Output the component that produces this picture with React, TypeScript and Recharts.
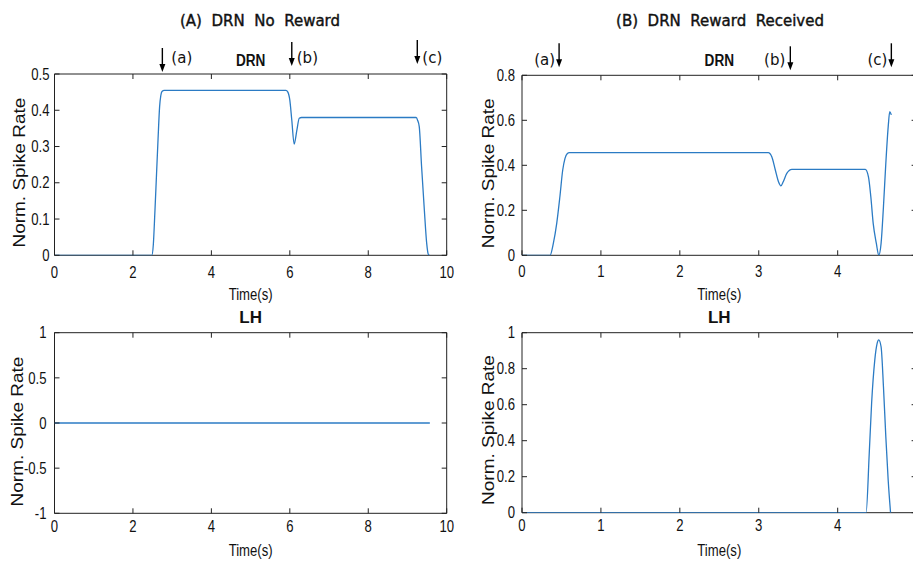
import React from "react"
import { LineChart, Line, XAxis, YAxis, ReferenceLine, Label, CartesianGrid } from "recharts"

// (A) DRN, no reward
const drnNoRewardTime = [0, 2.48, 2.52, 2.56, 2.6, 2.64, 2.68, 2.71, 2.74, 2.8, 5.9, 5.95, 6.0, 6.05, 6.11, 6.18, 6.24, 6.3, 9.22, 9.26, 9.3, 9.36, 9.43, 9.49, 9.53, 9.56]
const drnNoRewardRate = [0, 0, 0.03, 0.12, 0.22, 0.32, 0.41, 0.44, 0.452, 0.455, 0.455, 0.45, 0.428, 0.373, 0.307, 0.345, 0.378, 0.38, 0.38, 0.372, 0.355, 0.244, 0.125, 0.033, 0.003, 0]
// (A) LH, no reward
const lhNoRewardTime = [0, 9.57]
const lhNoRewardRate = [0, 0]
// (B) DRN, reward received
const drnRewardTime = [0, 0.355, 0.397, 0.44, 0.48, 0.516, 0.545, 0.575, 0.6, 3.12, 3.165, 3.21, 3.25, 3.28, 3.31, 3.355, 3.42, 3.45, 4.35, 4.39, 4.42, 4.45, 4.49, 4.52, 4.55, 4.58, 4.61, 4.64, 4.66, 4.68]
const drnRewardRate = [0, 0, 0.053, 0.142, 0.26, 0.379, 0.431, 0.452, 0.456, 0.456, 0.438, 0.379, 0.327, 0.309, 0.327, 0.364, 0.382, 0.382, 0.382, 0.349, 0.26, 0.142, 0.053, 0, 0.053, 0.216, 0.409, 0.571, 0.638, 0.624]
// (B) LH, reward received
const lhRewardTime = [0, 4.36, 4.4, 4.43, 4.47, 4.5, 4.52, 4.55, 4.58, 4.61, 4.64, 4.67]
const lhRewardRate = [0, 0, 0.33, 0.608, 0.848, 0.941, 0.96, 0.922, 0.7, 0.422, 0.18, 0]

const ticksTimeA = [0, 2, 4, 6, 8, 10]
const ticksTimeB = [0, 1, 2, 3, 4]
const ticksDrnA = [0, 0.1, 0.2, 0.3, 0.4, 0.5]
const ticksDrnB = [0, 0.2, 0.4, 0.6, 0.8]
const ticksLhA = [-1, -0.5, 0, 0.5, 1]
const ticksLhB = [0, 0.2, 0.4, 0.6, 0.8, 1]

const eventLabels = ["(a)", "(b)", "(c)"]
const eventTimeA = [2.75, 6.05, 9.25]
const eventTimeB = [0.47, 3.4, 4.68]

// arrow placement tweaks (pixels)
const arrowStyleA = [{ gap: 2, dx: 9 }, { gap: 8, dx: 5 }, { gap: 10, dx: 5 }]
const arrowStyleB = [{ gap: 8, dx: -4 }, { gap: 5, dx: -5 }, { gap: 8, dx: -4 }]

const zip = (t: number[], v: number[]) => t.map((x, i) => ({ t: x, v: v[i] }))

const AXIS = "#222"
const LINE = "#2b7bc4"
const SANS = "'Liberation Sans', Arial, sans-serif"
const SQUEEZE = 0.82 // the original figure text is horizontally squeezed

const NarrowTick = (props: any) => {
  const { x, y, payload, textAnchor, verticalAnchor } = props
  const dy = verticalAnchor === "start" ? "0.71em" : "0.355em"
  return (
    <g transform={`translate(${x},${y}) scale(${SQUEEZE},1)`}>
      <text x={0} y={0} dy={dy} textAnchor={textAnchor} fontFamily={SANS} fontSize={16} fill="#111">
        {payload.value}
      </text>
    </g>
  )
}

const narrowLabel =
  (text: string, where: "top" | "bottom", offset: number, bold = false, sx = SQUEEZE, size = 16) =>
  (p: any) => {
    const vb = p.viewBox
    const x = vb.x + vb.width / 2
    const y = where === "bottom" ? vb.y + vb.height + offset : vb.y - offset
    return (
      <g transform={`translate(${x},${y}) scale(${sx},1)`}>
        <text
          x={0}
          y={0}
          dy={where === "bottom" ? "0.71em" : 0}
          textAnchor="middle"
          fontFamily={SANS}
          fontWeight={bold ? "bold" : "normal"}
          fontSize={size}
          fill="#111"
        >
          {text}
        </text>
      </g>
    )
  }

const arrowShape = (label: string, gap: number, dx: number, textUp: number) => (props: any) => {
  const x = props.x1
  const top = Math.min(props.y1, props.y2)
  const tip = top - gap
  return (
    <g>
      <line x1={x} x2={x} y1={tip - 24} y2={tip - 6} stroke="#000" strokeWidth={1.4} />
      <path d={`M${x - 3},${tip - 8} L${x + 3},${tip - 8} L${x},${tip} Z`} fill="#000" />
      <text
        x={x + dx}
        y={top - textUp}
        textAnchor={dx > 0 ? "start" : "end"}
        dominantBaseline="central"
        fontFamily="'DejaVu Sans', sans-serif"
        fontSize={15}
        fill="#111"
      >
        {label}
      </text>
    </g>
  )
}

const Panel = ({
  left,
  top,
  width,
  height,
  margin,
  data,
  xDomain,
  xTicks,
  yDomain,
  yTicks,
  name,
  nameOffset,
  nameScale,
  nameSize,
  xTickMargin,
  yTickMargin,
  xLabelOffset,
  yLabelDx,
  yLabelDy,
  events,
  arrowStyle,
  textUp,
}: any) => (
  <div style={{ position: "absolute", left, top }}>
    <LineChart width={width} height={height} data={data} margin={margin}>
      {/* frame drawn under the curve */}
      <CartesianGrid
        stroke={AXIS}
        strokeOpacity={1}
        horizontalCoordinatesGenerator={({ offset }: any) => [offset.top, offset.top + offset.height]}
        verticalCoordinatesGenerator={({ offset }: any) => [offset.left, offset.left + offset.width]}
      />
      <XAxis
        dataKey="t"
        type="number"
        domain={xDomain}
        ticks={xTicks}
        interval={0}
        allowDataOverflow
        height={1}
        tickSize={-5}
        tickMargin={xTickMargin}
        axisLine={false}
        tickLine={{ stroke: AXIS }}
        tick={<NarrowTick />}
      >
        <Label content={narrowLabel("Time(s)", "bottom", xLabelOffset)} />
      </XAxis>
      <XAxis
        xAxisId="top"
        orientation="top"
        dataKey="t"
        type="number"
        domain={xDomain}
        ticks={xTicks}
        interval={0}
        allowDataOverflow
        height={1}
        tickSize={-5}
        tickFormatter={() => ""}
        axisLine={false}
        tickLine={{ stroke: AXIS }}
      >
        <Label content={narrowLabel(name, "top", nameOffset, true, nameScale, nameSize)} />
      </XAxis>
      <YAxis
        type="number"
        domain={yDomain}
        ticks={yTicks}
        interval={0}
        allowDataOverflow
        width={1}
        tickSize={-5}
        tickMargin={yTickMargin}
        axisLine={false}
        tickLine={{ stroke: AXIS }}
        tick={<NarrowTick />}
      >
        <Label
          content={(p: any) => {
            const vb = p.viewBox
            const cx = vb.x + vb.width - yLabelDx
            const cy = vb.y + vb.height / 2 + yLabelDy
            return (
              <g transform={`translate(${cx},${cy}) rotate(-90) scale(1,${SQUEEZE + 0.03})`}>
                <text x={0} y={0} dy="0.355em" textAnchor="middle" fontFamily={SANS} fontSize={19} fill="#111">
                  Norm. Spike Rate
                </text>
              </g>
            )
          }}
        />
      </YAxis>
      <YAxis
        yAxisId="right"
        orientation="right"
        type="number"
        domain={yDomain}
        ticks={yTicks}
        interval={0}
        allowDataOverflow
        width={1}
        tickSize={-5}
        tickFormatter={() => ""}
        axisLine={false}
        tickLine={{ stroke: AXIS }}
      />
      <Line
        dataKey="v"
        type="monotone"
        stroke={LINE}
        strokeWidth={1.3}
        dot={false}
        activeDot={false}
        isAnimationActive={false}
      />
      {(events || []).map((t: number, i: number) => (
        <ReferenceLine
          key={i}
          x={t}
          ifOverflow="visible"
          shape={arrowShape(eventLabels[i], arrowStyle[i].gap, arrowStyle[i].dx, textUp)}
        />
      ))}
    </LineChart>
  </div>
)

const titleStyle: React.CSSProperties = {
  position: "absolute",
  top: 11,
  transform: "translateX(-50%)",
  fontFamily: "'DejaVu Sans', sans-serif",
  fontSize: 15,
  lineHeight: "20px",
  whiteSpace: "pre",
  color: "#111",
  WebkitTextStroke: "0.4px #111",
}

export default function App() {
  return (
    <div
      style={{
        position: "fixed",
        left: 0,
        top: 0,
        width: 913,
        height: 565,
        overflow: "hidden",
        background: "#fff",
      }}
    >
      <div style={{ ...titleStyle, left: 260 }}>(A)  DRN  No  Reward</div>
      <div style={{ ...titleStyle, left: 720 }}>(B)  DRN  Reward  Received</div>

      <Panel
        left={0}
        top={0}
        width={460}
        height={312}
        margin={{ top: 73, left: 53.5, right: 12.3, bottom: 55.7 }}
        data={zip(drnNoRewardTime, drnNoRewardRate)}
        xDomain={[0, 10]}
        xTicks={ticksTimeA}
        yDomain={[0, 0.5]}
        yTicks={ticksDrnA}
        name="DRN"
        nameOffset={7.3}
        nameScale={0.8}
        nameSize={17}
        xTickMargin={16}
        yTickMargin={10}
        xLabelOffset={32.7}
        yLabelDx={35}
        yLabelDy={8}
        events={eventTimeA}
        arrowStyle={arrowStyleA}
        textUp={16}
      />
      <Panel
        left={460}
        top={0}
        width={460}
        height={312}
        margin={{ top: 74.3, left: 61, right: 2.4, bottom: 55.7 }}
        data={zip(drnRewardTime, drnRewardRate)}
        xDomain={[0, 5]}
        xTicks={ticksTimeB}
        yDomain={[0, 0.8]}
        yTicks={ticksDrnB}
        name="DRN"
        nameOffset={8.6}
        nameScale={0.8}
        nameSize={17}
        xTickMargin={15}
        yTickMargin={12}
        xLabelOffset={32.7}
        yLabelDx={34}
        yLabelDy={8}
        events={eventTimeB}
        arrowStyle={arrowStyleB}
        textUp={15}
      />
      <Panel
        left={0}
        top={300}
        width={460}
        height={265}
        margin={{ top: 31.7, left: 53.5, right: 12.3, bottom: 50.7 }}
        data={zip(lhNoRewardTime, lhNoRewardRate)}
        xDomain={[0, 10]}
        xTicks={ticksTimeA}
        yDomain={[-1, 1]}
        yTicks={ticksLhA}
        name="LH"
        nameOffset={8.4}
        nameScale={1}
        nameSize={17}
        xTickMargin={12}
        yTickMargin={13}
        xLabelOffset={30.7}
        yLabelDx={37.5}
        yLabelDy={8.5}
      />
      <Panel
        left={460}
        top={300}
        width={460}
        height={265}
        margin={{ top: 31.7, left: 61, right: 2.4, bottom: 51.3 }}
        data={zip(lhRewardTime, lhRewardRate)}
        xDomain={[0, 5]}
        xTicks={ticksTimeB}
        yDomain={[0, 1]}
        yTicks={ticksLhB}
        name="LH"
        nameOffset={8.4}
        nameScale={1}
        nameSize={17}
        xTickMargin={12}
        yTickMargin={12}
        xLabelOffset={30.7}
        yLabelDx={34}
        yLabelDy={7.3}
      />
    </div>
  )
}
